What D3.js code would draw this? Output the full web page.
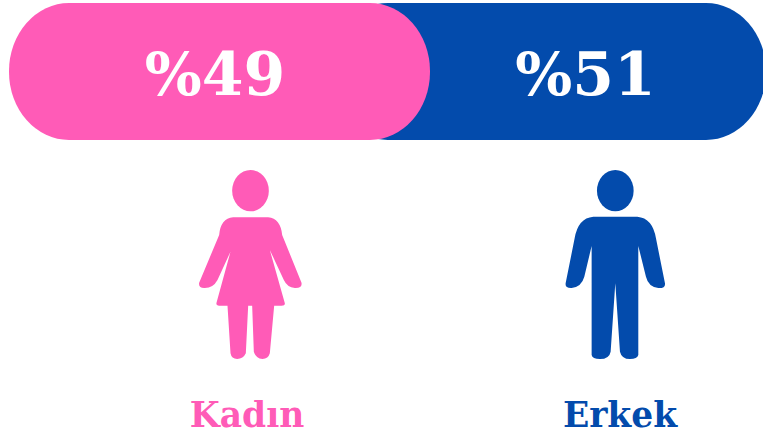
<!DOCTYPE html>
<html><head><meta charset="utf-8">
<script src="https://cdn.jsdelivr.net/npm/d3@7"></script>
<style>html,body{margin:0;padding:0;background:#fff;overflow:hidden}svg{display:block}</style>
</head><body><svg id="c" width="763" height="437"></svg>
<script>
const categories = ["Kadın", "Erkek"];
const values = [49, 51];
const colours = ["#FF5BB7", "#034BAC"];
const valueLabels = ["%49", "%51"];

const svg = d3.select("#c");
const FONT = "'DejaVu Serif', serif";
const w = d3.scaleLinear().domain([0, 49]).range([0, 421]);
const barLeft = 9, barRight = 766, barTop = 3, barH = 137, rx = 60, ry = 68;

// blue is anchored to the right end, pink to the left and overlaps it
svg.append("rect").attr("x", barRight - w(values[1])).attr("y", barTop)
  .attr("width", w(values[1])).attr("height", barH).attr("rx", rx).attr("ry", ry).attr("fill", colours[1]);
svg.append("rect").attr("x", barLeft).attr("y", barTop)
  .attr("width", w(values[0])).attr("height", barH).attr("rx", rx).attr("ry", ry).attr("fill", colours[0]);

const valueX = d3.scalePoint().domain(categories).range([215, 585.5]);
const iconX = d3.scalePoint().domain(categories).range([250.5, 615.3]);
const nameX = d3.scalePoint().domain(categories).range([247, 620]);

svg.selectAll("text.v").data(categories).join("text").attr("class", "v")
  .attr("x", d => valueX(d)).attr("y", 94.5).attr("text-anchor", "middle")
  .attr("font-family", FONT).attr("font-weight", 700).attr("font-size", 60)
  .attr("fill", "#fff").text((d, i) => valueLabels[i]);

svg.selectAll("text.n").data(categories).join("text").attr("class", "n")
  .attr("x", d => nameX(d)).attr("y", 427).attr("text-anchor", "middle")
  .attr("font-family", FONT).attr("font-weight", 700).attr("font-size", 34.5)
  .attr("fill", (d, i) => colours[i]).text(d => d);

// pictograms drawn in a local unit, centred on the head axis (3 units = 1px)
const womanBody = "M-52,172 L53,172 Q90,176 95,225 L153,368 Q156,385 133,384 Q110,382 100,360 L58,270 L103,430 Q104,437 93,437 L71,437 L58,580 Q53,597 36,597 Q16,595 10,575 L5,437 L-7,437 L-14,580 Q-22,597 -40,597 Q-57,597 -60,580 L-69,437 L-94,437 Q-104,437 -102,428 L-60,275 L-99,360 Q-112,384 -137,384 Q-157,385 -154,368 L-94,225 Q-90,176 -52,172 Z";
const manBody = "M-66,170 L66,170 Q112,174 122,235 L149,370 Q151,385 129,384 Q99,380 92,350 L69,258 L69,585 Q66,597 44,597 Q19,597 14,575 L0,370 L-14,575 Q-18,597 -46,597 Q-69,597 -71,585 L-71,258 L-93,350 Q-101,380 -131,384 Q-151,385 -149,370 L-122,235 Q-112,174 -66,170 Z";
const bodies = [womanBody, manBody];

const icons = svg.selectAll("g.icon").data(categories).join("g").attr("class", "icon")
  .attr("transform", d => `translate(${iconX(d)},160) scale(${1/3})`)
  .attr("fill", (d, i) => colours[i]);
icons.append("ellipse").attr("cx", 0).attr("cy", 92).attr("rx", 55).attr("ry", 62);
icons.append("path").attr("d", (d, i) => bodies[i]);
</script></body></html>
